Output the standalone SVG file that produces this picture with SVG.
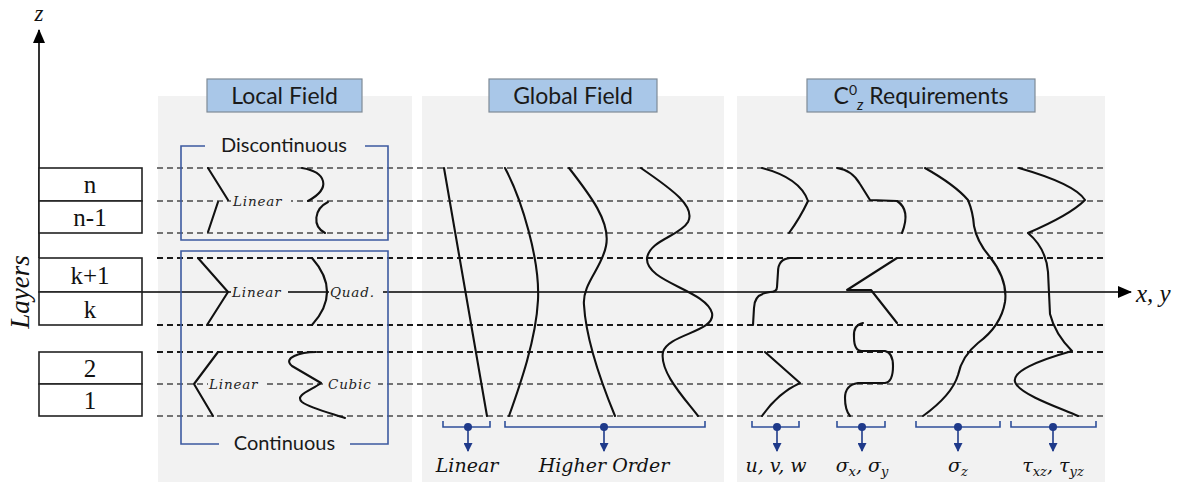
<svg xmlns="http://www.w3.org/2000/svg" width="1188" height="482" viewBox="0 0 1188 482">
  <style>
    .panel { fill: #f2f2f2; }
    .title { fill: #a9c7e8; stroke: #7f8a96; stroke-width: 1.2; }
    .ttl { font-family: Lato, "Open Sans", sans-serif; font-size: 23px; fill: #1a1a1a; text-anchor: middle; }
    .cap { font-family: Lato, "Open Sans", sans-serif; font-size: 20px; fill: #1a1a1a; text-anchor: middle; }
    .dash { stroke: #4a4a4a; stroke-width: 1.4; stroke-dasharray: 6 4; fill: none; }
    .dashb { stroke: #1a1a1a; stroke-width: 1.8; stroke-dasharray: 6 4; fill: none; }
    .crv { stroke: #111; stroke-width: 2.1; fill: none; stroke-linejoin: round; stroke-linecap: round; }
    .frame { stroke: #3d5aa0; stroke-width: 1.6; fill: none; }
    .brk { stroke: #2f4f9a; stroke-width: 1.6; fill: none; }
    .arr { stroke: #1f3a8a; stroke-width: 1.6; fill: none; }
    .dot { fill: #1f3a8a; }
    .lay { fill: #fff; stroke: #222; stroke-width: 1.6; }
    .num { font-family: "Liberation Serif", "DejaVu Serif", serif; font-size: 25px; fill: #111; text-anchor: middle; }
    .mi { font-family: "Liberation Serif", "DejaVu Serif", serif; font-style: italic; fill: #111; }
    .small { font-family: "DejaVu Serif", "Liberation Serif", serif; font-style: italic; font-size: 13.5px; fill: #222; letter-spacing: 0.8px; }
    .lbl { font-family: "DejaVu Serif", "Liberation Serif", serif; font-style: italic; font-size: 19px; fill: #111; text-anchor: middle; }
    .bg { fill: #f2f2f2; }
  </style>
  <defs>
    <marker id="tri" markerWidth="9" markerHeight="9" refX="8" refY="4.5" orient="auto" markerUnits="userSpaceOnUse">
      <path d="M0,0 L9,4.5 L0,9 Z" fill="#1f3a8a"/>
    </marker>
    <marker id="axisHead" markerWidth="14" markerHeight="14" refX="13" refY="7" orient="auto" markerUnits="userSpaceOnUse">
      <path d="M0,1 L14,7 L0,13 Z" fill="#000"/>
    </marker>
  </defs>

  <!-- background panels -->
  <g id="panels">
    <rect class="panel" x="158" y="96" width="254" height="386"/>
    <rect class="panel" x="422" y="96" width="302" height="386"/>
    <rect class="panel" x="737" y="96" width="368" height="386"/>
  </g>

  <!-- interface lines through the laminate -->
  <g id="interfaces">
    <line class="dash" x1="157" y1="168" x2="1105" y2="168"/>
    <line class="dash" x1="157" y1="201" x2="1105" y2="201"/>
    <line class="dash" x1="157" y1="233" x2="1105" y2="233"/>
    <line class="dashb" x1="157" y1="258" x2="1105" y2="258"/>
    <line class="dashb" x1="157" y1="325" x2="1105" y2="325"/>
    <line class="dashb" x1="157" y1="352" x2="1105" y2="352"/>
    <line class="dash" x1="157" y1="384" x2="1105" y2="384"/>
    <line class="dash" x1="157" y1="416" x2="1105" y2="416"/>
  </g>

  <!-- axes -->
  <g id="axes">
    <line x1="39" y1="258" x2="39" y2="30" stroke="#000" stroke-width="1.6" marker-end="url(#axisHead)"/>
    <line x1="39" y1="292" x2="1131" y2="292" stroke="#000" stroke-width="1.5" marker-end="url(#axisHead)"/>
    <text class="mi" x="39" y="21" font-size="23" text-anchor="middle">z</text>
    <text class="mi" x="1136" y="302" font-size="25">x, y</text>
    <text class="mi" x="0" y="0" font-size="27" text-anchor="middle" transform="translate(29,292) rotate(-90)">Layers</text>
  </g>

  <!-- layer stack -->
  <g id="layers">
    <rect class="lay" x="39" y="168" width="103" height="33"/>
    <rect class="lay" x="39" y="201" width="103" height="32"/>
    <rect class="lay" x="39" y="258" width="103" height="34"/>
    <rect class="lay" x="39" y="292" width="103" height="33"/>
    <rect class="lay" x="39" y="352" width="103" height="32"/>
    <rect class="lay" x="39" y="384" width="103" height="32"/>
    <text class="num" x="90" y="193">n</text>
    <text class="num" x="90" y="226">n-1</text>
    <text class="num" x="90" y="284">k+1</text>
    <text class="num" x="90" y="318">k</text>
    <text class="num" x="90" y="377">2</text>
    <text class="num" x="90" y="409">1</text>
  </g>

  <!-- panel titles -->
  <g id="title-local">
    <rect class="title" x="207" y="79" width="155" height="33"/>
    <text class="ttl" x="284.5" y="104">Local Field</text>
  </g>
  <g id="title-global">
    <rect class="title" x="489" y="79" width="168" height="33"/>
    <text class="ttl" x="573" y="104">Global Field</text>
  </g>
  <g id="title-c0">
    <rect class="title" x="807" y="79" width="228" height="33"/>
    <text class="ttl" x="921" y="104">C<tspan font-size="14" dy="-9">0</tspan><tspan font-size="15" font-style="italic" dy="15">z</tspan><tspan dy="-6"> Requirements</tspan></text>
  </g>

  <!-- local field: discontinuous -->
  <g id="local-discontinuous">
    <path class="frame" d="M205,146 L181,146 L181,240 L388,240 L388,146 L365,146"/>
    <text class="cap" x="284" y="152">Discontinuous</text>
    <path class="crv" d="M208,168 L228,200"/>
    <path class="crv" d="M218,202 L208,232"/>
    <rect class="bg" x="231" y="192" width="60" height="18"/>
    <text class="small" x="233" y="206">Linear</text>
    <path class="crv" d="M302,168 C326,172 332,188 308,201"/>
    <path class="crv" d="M328,202 C314,209 312,226 325,233"/>
  </g>

  <!-- local field: continuous -->
  <g id="local-continuous">
    <path class="frame" d="M219,444 L181,444 L181,251 L388,251 L388,444 L350,444"/>
    <text class="cap" x="284.5" y="450">Continuous</text>
    <path class="crv" d="M198,258 L228,292 L207,325"/>
    <rect class="bg" x="231" y="283" width="57" height="18"/>
    <text class="small" x="232" y="297">Linear</text>
    <path class="crv" d="M312,258 Q342,292 312,325"/>
    <rect class="bg" x="329" y="283" width="54" height="18"/>
    <text class="small" x="330" y="297">Quad.</text>
    <path class="crv" d="M218,352 L194,384 L213,416"/>
    <rect class="bg" x="208" y="375" width="57" height="18"/>
    <text class="small" x="209" y="389">Linear</text>
    <path class="crv" d="M316,352 C300,352 282,358 292,366 L321,383 C312,390 294,395 302,402 C310,408 330,413 345,418"/>
    <rect class="bg" x="327" y="375" width="51" height="18"/>
    <text class="small" x="328" y="389">Cubic</text>
  </g>

  <!-- global field profiles -->
  <g id="global-field">
    <path class="crv" d="M444,168 L487,416"/>
    <path class="crv" d="M505,168 C522,200 540,260 538,300 C536,340 520,385 509,416"/>
    <path class="crv" d="M569,168 C590,195 611,222 606,246 C602,268 582,284 584,305 C586,340 601,382 615,416"/>
    <path class="crv" d="M641,168 C665,185 697,205 688,222 C680,236 650,240 647,258 C645,282 706,290 712,313 C716,332 668,334 663,352 C659,372 686,400 698,416"/>
  </g>

  <!-- C0z requirement profiles -->
  <g id="c0-requirements">
    <path class="crv" d="M762,168 Q800,178 808,201 Q800,218 789,233"/>
    <path class="crv" d="M800,258 L790,258 Q778,259 778,272 L777,287 Q777,292 770,292 L765,293 Q754,296 754,308 L753,325"/>
    <path class="crv" d="M765,352 L800,383 Q778,393 762,416"/>
    <path class="crv" d="M837,168 Q852,170 860,184 L870,200 L897,201 Q911,210 902,233"/>
    <path class="crv" d="M897,258 L847,290 L871,290 L897,323"/>
    <path class="crv" d="M863,323 Q853,325 854,337 Q854,351 862,351 L885,351 Q893,353 893,366 Q893,382 885,383 L858,383 Q845,385 845,398 Q845,410 850,416"/>
    <path class="crv" d="M925,168 Q955,185 968,200 Q973,212 974,226 Q977,242 990,257 Q1008,280 1005,302 Q1001,326 978,343 Q962,356 958,375 Q952,395 923,416"/>
    <path class="crv" d="M1019,168 Q1075,184 1085,200 Q1070,215 1028,233 Q1046,248 1048,272 L1050,314 Q1055,334 1072,351 C1040,360 1008,372 1016,384 C1024,396 1060,408 1078,416"/>
  </g>

  <!-- result brackets -->
  <g id="brackets">
    <path class="brk" d="M443,421 L443,427 L490,427 L490,421"/>
    <path class="brk" d="M505,421 L505,427 L705,427 L705,421"/>
    <path class="brk" d="M752,421 L752,427 L799,427 L799,421"/>
    <path class="brk" d="M837,421 L837,427 L885,427 L885,421"/>
    <path class="brk" d="M916,421 L916,427 L1000,427 L1000,421"/>
    <path class="brk" d="M1011,421 L1011,427 L1096,427 L1096,421"/>
    <g class="dot">
      <circle cx="468" cy="427" r="4"/>
      <circle cx="604" cy="427" r="4"/>
      <circle cx="777" cy="427" r="4"/>
      <circle cx="862" cy="427" r="4"/>
      <circle cx="958" cy="427" r="4"/>
      <circle cx="1053" cy="427" r="4"/>
    </g>
    <g class="arr" marker-end="url(#tri)">
      <line x1="468" y1="427" x2="468" y2="451"/>
      <line x1="604" y1="427" x2="604" y2="451"/>
      <line x1="777" y1="427" x2="777" y2="451"/>
      <line x1="862" y1="427" x2="862" y2="451"/>
      <line x1="958" y1="427" x2="958" y2="451"/>
      <line x1="1053" y1="427" x2="1053" y2="451"/>
    </g>
  </g>

  <!-- result labels -->
  <g id="labels">
    <text class="lbl" x="467" y="472">Linear</text>
    <text class="lbl" x="604" y="472">Higher Order</text>
    <text class="lbl" x="776" y="472">u, v, w</text>
    <text class="lbl" x="862" y="472">σ<tspan font-size="13" dy="4">x</tspan><tspan dy="-4">, σ</tspan><tspan font-size="13" dy="4">y</tspan></text>
    <text class="lbl" x="958" y="472">σ<tspan font-size="13" dy="4">z</tspan></text>
    <text class="lbl" x="1053" y="472">τ<tspan font-size="13" dy="4">xz</tspan><tspan dy="-4">, τ</tspan><tspan font-size="13" dy="4">yz</tspan></text>
  </g>
</svg>
